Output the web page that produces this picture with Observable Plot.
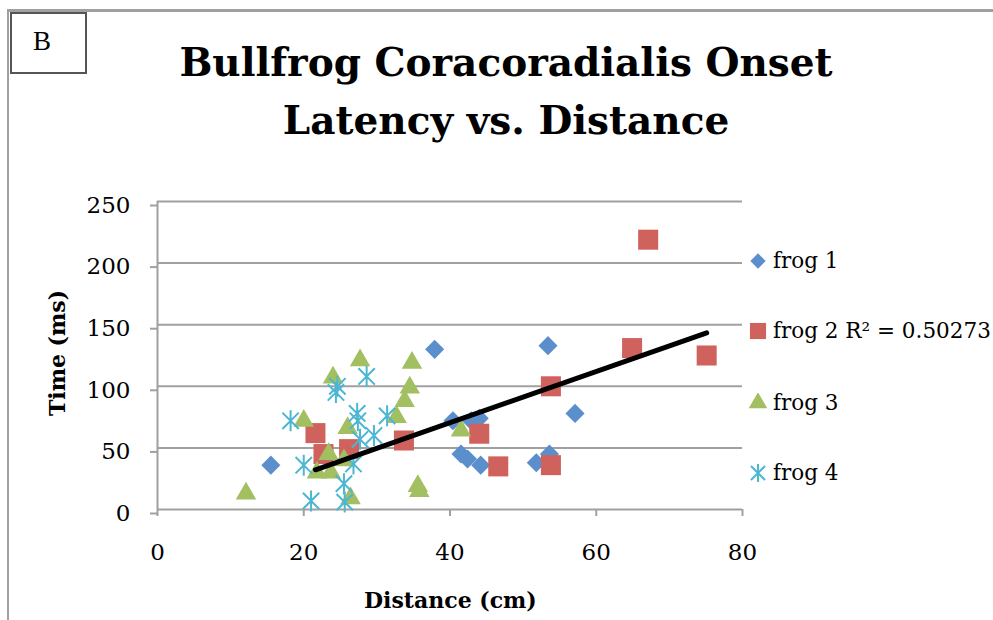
<!DOCTYPE html>
<html>
<head>
<meta charset="utf-8">
<script src="https://cdn.jsdelivr.net/npm/d3@7"></script>
<script src="https://cdn.jsdelivr.net/npm/@observablehq/plot@0.6"></script>
<style>
  html, body { margin: 0; padding: 0; background: #fff; }
  #wrap { position: relative; width: 993px; height: 620px; overflow: hidden; font-family: "DejaVu Serif", serif; }
  #frame { position: absolute; left: 7px; top: 9px; width: 1000px; height: 700px; border-left: 2px solid #a0a0a0; border-top: 3px solid #a0a0a0; }
  #bbox { position: absolute; left: 10px; top: 12px; width: 73px; height: 58px; border: 2px solid #555; background: #fff; }
  #bbox span { position: absolute; left: 21px; top: 14px; font-family: "Liberation Serif", serif; font-size: 27px; line-height: 1; }
  .title { position: absolute; left: 0; width: 1012px; text-align: center; font-weight: bold; font-size: 39px; line-height: 1; }
  .axt { position: absolute; font-weight: bold; font-size: 22px; line-height: 1; white-space: nowrap; }
  .leg { position: absolute; left: 748px; font-size: 22px; line-height: 1; white-space: nowrap; display: flex; align-items: center; }
  .leg svg { margin-right: 5px; }
  #chart { position: absolute; left: 0; top: 0; }
</style>
</head>
<body>
<div id="wrap">
  <div id="frame"></div>
  <div id="bbox"><span>B</span></div>
  <div class="title" style="top:43px">Bullfrog Coracoradialis Onset</div>
  <div class="title" style="top:101px">Latency vs. Distance</div>
  <div id="chart"></div>
  <div class="axt" style="left:364px; top:589px;">Distance (cm)</div>
  <div class="axt" style="left:-13px; top:342px; transform: rotate(-90deg); transform-origin: 50% 50%; width:140px; text-align:center;">Time (ms)</div>
  <div id="legend"></div>
</div>
<script>
// ---- data ----
const xTicks = [0, 20, 40, 60, 80];
const yTicks = [0, 50, 100, 150, 200, 250];

const frog1X = [15.5, 37.9, 53.4, 40.4, 42.9, 44.0, 41.5, 42.4, 44.2, 51.8, 53.6, 57.1];
const frog1Y = [36, 130, 133, 72, 72, 74, 45, 41, 36, 38, 45, 78];

const frog2X = [67.1, 64.9, 75.1, 53.8, 44.0, 46.6, 53.8, 21.6, 22.7, 26.2, 33.7];
const frog2Y = [219, 131, 125, 100, 61.5, 35, 36, 62, 45, 49, 56];

const frog3X = [12.1, 20.0, 24.0, 27.7, 34.8, 34.5, 33.8, 32.7, 26.0, 23.4, 21.8, 23.7, 25.5, 26.4, 35.6, 35.8, 41.5];
const frog3Y = [13, 72, 107, 121, 119, 99, 88, 75, 66, 45, 30, 30, 40, 9, 19, 15, 64];

const frog4X = [18.2, 28.6, 24.6, 24.4, 27.3, 27.4, 31.4, 29.6, 27.7, 26.8, 20.0, 25.5, 21.0, 25.6];
const frog4Y = [72, 108, 100, 95, 78, 72, 76, 60, 57, 37, 36, 21, 7, 6];

const seriesNames = ["frog 1", "frog 2 R\u00B2 = 0.50273", "frog 3", "frog 4"];
const seriesColors = ["#5a8fcb", "#cf625c", "#a2bf62", "#4cb6d3"];

// ---- build tables ----
const toRows = (xs, ys) => xs.map((x, i) => ({x, y: ys[i]}));
const frog1 = toRows(frog1X, frog1Y);
const frog2 = toRows(frog2X, frog2Y);
const frog3 = toRows(frog3X, frog3Y);
const frog4 = toRows(frog4X, frog4Y);

// Excel-like star marker: vertical line plus an X
const starSymbol = {
  draw(context, size) {
    const r = Math.sqrt(size / Math.PI);
    const d = r * 0.78;
    context.moveTo(0, -r); context.lineTo(0, r);
    context.moveTo(-d, -d); context.lineTo(d, d);
    context.moveTo(-d, d); context.lineTo(d, -d);
  }
};

const gray = "#a0a0a0";

const chart = Plot.plot({
  width: 993,
  height: 620,
  marginLeft: 157,
  marginRight: 251,
  marginTop: 201,
  marginBottom: 111,
  x: {domain: [0, 80]},
  y: {domain: [0, 250]},
  style: {fontFamily: "DejaVu Serif", fontSize: "22px", color: "black", background: "transparent"},
  marks: [
    Plot.ruleY(yTicks, {stroke: gray, strokeWidth: 2}),
    Plot.ruleX([0], {y1: 0, y2: 250, stroke: gray, strokeWidth: 2}),
    Plot.axisY({ticks: yTicks, tickSize: 7, tickPadding: 20, stroke: gray, strokeWidth: 2, label: null, fontSize: 23, dy: 4}),
    Plot.axisX({ticks: xTicks, tickSize: 7, tickPadding: 27, stroke: gray, strokeWidth: 2, label: null, fontSize: 23}),
    Plot.dot(frog1, {x: "x", y: "y", symbol: "diamond2", r: 8.6, fill: seriesColors[0], stroke: "none"}),
    Plot.dot(frog2, {x: "x", y: "y", symbol: "square", r: 11.3, fill: seriesColors[1], stroke: "none"}),
    Plot.dot(frog3, {x: "x", y: "y", symbol: "triangle", r: 7.6, fill: seriesColors[2], stroke: "none"}),
    Plot.dot(frog4, {x: "x", y: "y", symbol: starSymbol, r: 10.5, fill: "none", stroke: seriesColors[3], strokeWidth: 2}),
    Plot.linearRegressionY(frog2, {x: "x", y: "y", stroke: "black", strokeWidth: 5, ci: 0})
  ]
});
document.getElementById("chart").appendChild(chart);

// ---- legend ----
const legendSymbols = [d3.symbolDiamond2, d3.symbolSquare, d3.symbolTriangle, null];
const legendSizes = [150, 260, 150, 0];
const legendTops = [250, 320, 392, 462];
const legend = d3.select("#legend");
const spans = [];
seriesNames.forEach((name, i) => {
  const row = legend.append("div").attr("class", "leg").style("top", legendTops[i] + "px");
  const svg = row.append("svg").attr("width", 20).attr("height", 20);
  const g = svg.append("g").attr("transform", "translate(10,10)");
  if (legendSymbols[i]) {
    g.append("path").attr("d", d3.symbol(legendSymbols[i], legendSizes[i])()).attr("fill", seriesColors[i]);
  } else {
    g.append("path").attr("d", d3.symbol(starSymbol, Math.PI * 81)()).attr("fill", "none").attr("stroke", seriesColors[i]).attr("stroke-width", 2);
  }
  spans.push(row.append("span").text(name).node());
});
// fit the longest legend label inside the window width
const maxW = 993 - 773 - 2;
const widest = Math.max(...spans.map(s => s.getBoundingClientRect().width));
if (widest > maxW) {
  const fs = 22 * maxW / widest;
  spans.forEach(s => s.style.fontSize = fs + "px");
}
</script>
</body>
</html>
